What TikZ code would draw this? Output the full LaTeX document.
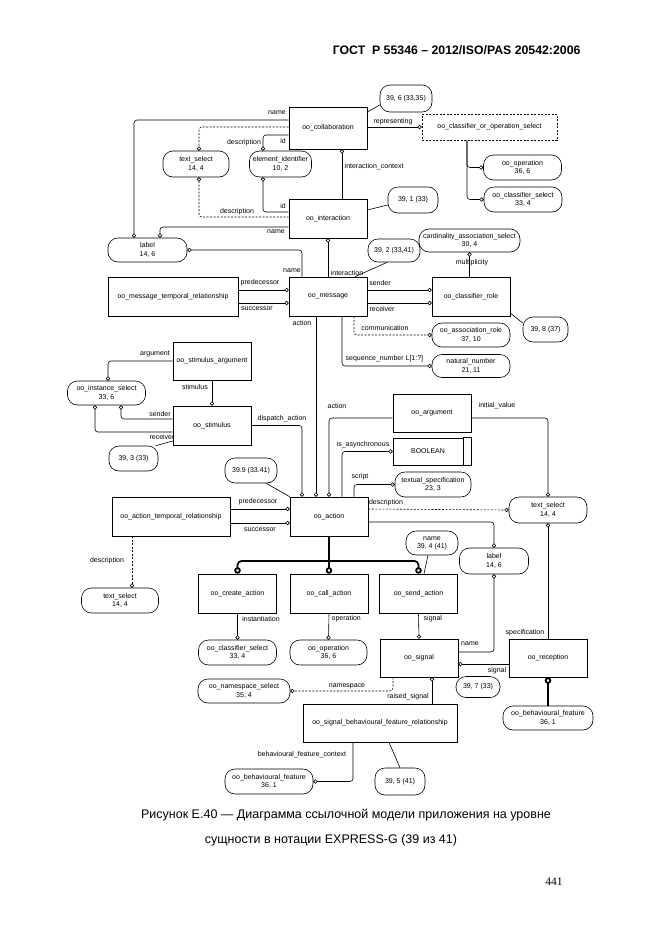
\documentclass[tikz,border=0pt]{standalone}
\usepackage{fontspec}
\setmainfont{Liberation Sans}
\newfontfamily\pagefont{Liberation Serif}
\usetikzlibrary{arrows.meta}
\newcommand{\dgfont}{\fontsize{7}{8.2}\selectfont}
\begin{document}
\begin{tikzpicture}[x=1pt,y=-1pt,
    ent/.style={draw, rectangle, line width=0.6pt, minimum width=78, minimum height=39, inner sep=1pt, font=\dgfont},
    typ/.style={draw, rectangle, rounded corners=10, line width=0.6pt, minimum width=78, minimum height=25, inner sep=0.5pt, align=center, font=\dgfont},
    lab/.style={inner sep=0.5pt, font=\dgfont},
    ln/.style={line width=0.6pt, rounded corners=3},
    dsh/.style={dash pattern=on 2pt off 1.5pt},
    ci/.style={-{Circle[open,length=4.2pt,width=4.2pt]}},
    ic/.style={{Circle[open,length=4.2pt,width=4.2pt]}-},
    sup/.style={line width=1.8pt, rounded corners=4},
    ct/.style={-{Circle[open,length=6.5pt,width=6.5pt]}}]
\useasboundingbox (0,0) rectangle (662,935);
\node[font=\fontsize{12.3}{14}\bfseries\selectfont, anchor=east] (header) at (584,50) {ГОСТ\ \ Р 55346 – 2012/ISO/PAS 20542:2006};

\node[ent, minimum height=42] (oo-collaboration) at (328,128) {oo\_collaboration};
\node[ent] (oo-interaction) at (328,218.5) {oo\_interaction};
\node[ent] (oo-message) at (328,296.5) {oo\_message};
\node[ent, minimum width=130] (oo-message-temporal) at (173,296.5) {oo\_message\_temporal\_relationship};
\node[ent] (oo-classifier-role) at (471,296.5) {oo\_classifier\_role};
\node[ent, minimum height=38] (oo-stimulus-argument) at (212,361) {oo\_stimulus\_argument};
\node[ent] (oo-stimulus) at (212,425.5) {oo\_stimulus};
\node[ent, minimum height=38] (oo-argument) at (432,413) {oo\_argument};
\node[ent, minimum width=70, minimum height=27] (boolean) at (428,451.5) {BOOLEAN};
\draw[line width=0.6pt] (boolean.north east) -- ++(8,0) |- (boolean.south east);
\node[ent] (oo-action) at (329,516.5) {oo\_action};
\node[ent, minimum width=118] (oo-action-temporal) at (171,516.5) {oo\_action\_temporal\_relationship};
\node[ent] (oo-create-action) at (237.5,593.5) {oo\_create\_action};
\node[ent] (oo-call-action) at (329,593.5) {oo\_call\_action};
\node[ent] (oo-send-action) at (418.5,593.5) {oo\_send\_action};
\node[ent, minimum height=38] (oo-signal) at (419,658) {oo\_signal};
\node[ent, minimum height=38] (oo-reception) at (548,658) {oo\_reception};
\node[ent, minimum width=154, minimum height=38] (oo-signal-bfr) at (380,723) {oo\_signal\_behavioural\_feature\_relationship};
\node[ent, dsh, minimum width=135, minimum height=26] (oo-cos) at (489.5,127) {oo\_classifier\_or\_operation\_select};

\node[typ, minimum width=66, minimum height=26] (text-select-a) at (196,164) {text\_select\\14, 4};
\node[typ, minimum width=62, minimum height=26] (element-identifier) at (280.5,164) {element\_identifier\\10, 2};
\node[typ, minimum width=79, minimum height=24] (label-a) at (147.5,250) {label\\14, 6};
\node[typ, minimum width=52, minimum height=27] (ref-39-6) at (406,98.5) {39, 6 (33,35)};
\node[typ] (oo-operation-a) at (522.5,167.5) {oo\_operation\\36, 6};
\node[typ] (oo-classifier-select-a) at (523,199.5) {oo\_classifier\_select\\33, 4};
\node[typ, minimum width=50, minimum height=26] (ref-39-1) at (413,200) {39, 1 (33)};
\node[typ, minimum width=101, minimum height=23] (cardinality) at (469.5,240.5) {cardinality\_association\_select\\30, 4};
\node[typ, minimum width=52, minimum height=23] (ref-39-2) at (394,250.5) {39, 2 (33,41)};
\node[typ, minimum width=45] (ref-39-8) at (545.5,329.5) {39, 8 (37)};
\node[typ, minimum height=24] (oo-association-role) at (471,335) {oo\_association\_role\\37, 10};
\node[typ, minimum height=23] (natural-number) at (471,366) {natural\_number\\21, 11};
\node[typ, minimum height=24] (oo-instance-select) at (106.5,393) {oo\_instance\_select\\33, 6};
\node[typ, minimum width=49] (ref-39-3) at (133.5,458.5) {39, 3 (33)};
\node[typ, minimum width=52] (ref-39-9) at (251,470.5) {39.9 (33.41)};
\node[typ, minimum width=76] (textual-specification) at (433,484.5) {textual\_specification\\23, 3};
\node[typ, minimum height=26] (text-select-b) at (548,510) {text\_select\\14, 4};
\node[typ, minimum width=77] (text-select-c) at (120,600.5) {text\_select\\14, 4};
\node[typ, minimum width=52, minimum height=24] (name-39-4) at (432,543) {name\\39, 4 (41)};
\node[typ, minimum width=69, minimum height=26] (label-b) at (494,561) {label\\14, 6};
\node[typ] (oo-classifier-select-b) at (237.5,652.5) {oo\_classifier\_select\\33, 4};
\node[typ, minimum width=77] (oo-operation-b) at (328.5,652.5) {oo\_operation\\36, 6};
\node[typ, minimum width=92, minimum height=24] (oo-namespace-select) at (244,691) {oo\_namespace\_select\\35, 4};
\node[typ, minimum width=44, minimum height=21] (ref-39-7) at (478,687) {39, 7 (33)};
\node[typ, minimum width=90, minimum height=24] (oo-bf-b) at (548,718) {oo\_behavioural\_feature\\36, 1};
\node[typ, minimum width=88] (oo-bf-a) at (269,781.5) {oo\_behavioural\_feature\\36, 1};
\node[typ, minimum width=50, minimum height=27] (ref-39-5) at (400,781.5) {39, 5 (41)};

\draw[ln,ci] (oo-collaboration.west |- 0,120) -| (label-a.north -| 134,0);
\draw[ln,dsh,ci] (oo-collaboration.west |- 0,127) -| (text-select-a.north -| 199,0);
\draw[ln,ci] (oo-collaboration.west |- 0,135) -| (element-identifier.north -| 263,0);
\draw[ln,dsh,ic] (text-select-a.south -| 199,0) |- (oo-interaction.west |- 0,217);
\draw[ln,ic] (element-identifier.south -| 263,0) |- (oo-interaction.west |- 0,212);
\draw[ln,ci] (oo-interaction.west |- 0,227) -| (label-a.north -| 160,0);
\draw[ln,ic] (label-a.east) -| (oo-message.north -| 302,0);
\draw[ln,ic] (oo-interaction.south) -- (oo-message.north);
\draw[ln,ic] (oo-collaboration.south -| 342,0) -- (oo-interaction.north -| 342,0);
\draw[ln,ci] (oo-collaboration.east |- oo-cos.west) -- (oo-cos.west);
\draw[ln] (oo-collaboration.east |- 0,112) -- (ref-39-6.west |- 0,105);
\draw[ln,ci] (oo-cos.south -| 467,0) |- (oo-operation-a.west);
\draw[ln,ci] (oo-cos.south -| 467,0) |- (oo-classifier-select-a.west);
\draw[ln] (oo-interaction.east |- 0,210) -- (ref-39-1.west |- 0,205);
\draw[ln,ic] (cardinality.south) -- (cardinality.south |- oo-classifier-role.north);
\draw[ln] (ref-39-2.-120) -- (oo-message.north -| 355,0);
\draw[ln,ci] (oo-message-temporal.east |- 0,290) -- (oo-message.west |- 0,290);
\draw[ln,ci] (oo-message-temporal.east |- 0,303) -- (oo-message.west |- 0,303);
\draw[ln,ci] (oo-message.east |- 0,290) -- (oo-classifier-role.west |- 0,290);
\draw[ln,ci] (oo-message.east |- 0,303) -- (oo-classifier-role.west |- 0,303);
\draw[ln] (oo-classifier-role.east |- 0,313) -- (ref-39-8.west |- 0,323);
\draw[ln,dsh,ci] (oo-message.south -| 354,0) |- (oo-association-role.west);
\draw[ln,ci] (oo-message.south -| 342,0) |- (natural-number.west);
\draw[ln,ci] (oo-message.south -| 316,0) -- (oo-action.north -| 316,0);
\draw[ln,ci] (oo-stimulus-argument.west) -| (oo-instance-select.north -| 108,0);
\draw[ln,ci] (oo-stimulus-argument.south) -- (oo-stimulus.north);
\draw[ln,ci] (oo-stimulus.west |- 0,419) -| (oo-instance-select.south -| 121,0);
\draw[ln,ci] (oo-stimulus.west |- 0,432) -| (oo-instance-select.south -| 95,0);
\draw[ln] (ref-39-3.30) -- (oo-stimulus.west |- 0,441);
\draw[ln,ci] (oo-stimulus.east) -| (oo-action.north -| 302,0);
\draw[ln,ci] (oo-argument.west |- 0,418) -| (oo-action.north -| 329,0);
\draw[ln,ci] (oo-argument.east |- 0,418) -| (text-select-b.north);
\draw[ln,ci] (oo-action.north -| 342,0) |- (boolean.west);
\draw[ln,ci] (oo-action.north -| 354,0) |- (textual-specification.west);
\draw[ln] (ref-39-9.-40) -- (oo-action.north west);
\draw[ln,ci] (oo-action-temporal.east |- 0,509) -- (oo-action.west |- 0,509);
\draw[ln,ci] (oo-action-temporal.east |- 0,523) -- (oo-action.west |- 0,523);
\draw[ln,dsh,ci] (oo-action-temporal.south -| 132,0) -- (text-select-c.north -| 132,0);
\draw[ln,dsh,ci] (oo-action.east |- 0,509) -- (text-select-b.west);
\draw[ln,ci] (oo-action.east |- 0,522) -| (label-b.north);
\draw[ln,ic] (label-b.south) |- (oo-signal.east |- 0,652);
\draw[ln,ic] (text-select-b.south) -- (oo-reception.north);
\draw[sup,ct] (oo-action.south) -- (oo-call-action.north);
\draw[sup,ct] (oo-action.south |- 0,561) -| (oo-create-action.north);
\draw[sup,ct] (oo-action.south |- 0,561) -| (oo-send-action.north);
\draw[ln] ([xshift=-4]name-39-4.south) -- (oo-send-action.north -| 424,0);
\draw[ln,ci] (oo-create-action.south) -- (oo-classifier-select-b.north);
\draw[ln,ci] (oo-call-action.south) -- (oo-operation-b.north);
\draw[ln,ci] (oo-send-action.south) -- (oo-signal.north);
\draw[ln,dsh,ci] (oo-signal.south -| 393,0) |- (oo-namespace-select.east);
\draw[ln,ic] (oo-signal.south -| 432,0) -- (oo-signal-bfr.north -| 432,0);
\draw[ln] (oo-signal.south east) -- (ref-39-7.150);
\draw[ln,ci] (oo-reception.west |- 0,664) -- (oo-signal.east |- 0,664);
\draw[sup,{Circle[open,length=6.5pt,width=6.5pt]}-] (oo-reception.south) -- (oo-bf-b.north);
\draw[ln,ci] (oo-signal-bfr.south -| 353,0) |- (oo-bf-a.east);
\draw[ln] (oo-signal-bfr.south -| 389,0) -- (ref-39-5.north);

\node[lab] (lbl-name-a) at (277,113) {name};
\node[lab] (lbl-description-a) at (244,143) {description};
\node[lab] (lbl-id-a) at (283,141) {id};
\node[lab] (lbl-description-b) at (237,212) {description};
\node[lab] (lbl-id-b) at (283,206) {id};
\node[lab] (lbl-name-b) at (276,232) {name};
\node[lab] (lbl-name-c) at (292,271) {name};
\node[lab] (lbl-interaction) at (347,273) {interaction};
\node[lab, anchor=west] (lbl-interaction-context) at (344,167) {interaction\_context};
\node[lab] (lbl-representing) at (393,122) {representing};
\node[lab] (lbl-multiplicity) at (472,263) {multiplicity};
\node[lab] (lbl-predecessor-a) at (260,283) {predecessor};
\node[lab] (lbl-successor-a) at (257,309) {successor};
\node[lab] (lbl-sender-a) at (380,283) {sender};
\node[lab] (lbl-receiver-a) at (382,309) {receiver};
\node[lab] (lbl-action-a) at (302,323) {action};
\node[lab] (lbl-communication) at (385,328) {communication};
\node[lab, anchor=west] (lbl-sequence-number) at (345,359) {sequence\_number L[1:?]};
\node[lab] (lbl-argument) at (155,354) {argument};
\node[lab] (lbl-stimulus) at (195,387) {stimulus};
\node[lab] (lbl-sender-b) at (160,414) {sender};
\node[lab] (lbl-receiver-b) at (162,437) {receiver};
\node[lab] (lbl-dispatch-action) at (282,419) {dispatch\_action};
\node[lab] (lbl-action-b) at (337,406) {action};
\node[lab] (lbl-initial-value) at (497,406) {initial\_value};
\node[lab] (lbl-is-asynchronous) at (363,445) {is\_asynchronous};
\node[lab] (lbl-script) at (360,477) {script};
\node[lab] (lbl-predecessor-b) at (258,502) {predecessor};
\node[lab] (lbl-successor-b) at (260,530) {successor};
\node[lab] (lbl-description-c) at (386,503) {description};
\node[lab] (lbl-description-d) at (107,561) {description};
\node[lab] (lbl-instantiation) at (261,619) {instantiation};
\node[lab, anchor=west] (lbl-operation) at (331,619) {operation};
\node[lab, anchor=west] (lbl-signal-a) at (423,619) {signal};
\node[lab] (lbl-name-d) at (470,644) {name};
\node[lab] (lbl-specification) at (525,633) {specification};
\node[lab] (lbl-signal-b) at (497,671) {signal};
\node[lab] (lbl-namespace) at (347,686) {namespace};
\node[lab] (lbl-raised-signal) at (408,697) {raised\_signal};
\node[lab] (lbl-bf-context) at (302,755) {behavioural\_feature\_context};

\node[font=\fontsize{12.5}{14}\selectfont] (caption-a) at (346,815) {Рисунок Е.40 — Диаграмма ссылочной модели приложения на уровне};
\node[font=\fontsize{12.5}{14}\selectfont] (caption-b) at (331,840) {сущности в нотации EXPRESS-G (39 из 41)};
\node[font=\pagefont\fontsize{11.5}{13}\selectfont] (page-number) at (554,882) {441};
\end{tikzpicture}
\end{document}
